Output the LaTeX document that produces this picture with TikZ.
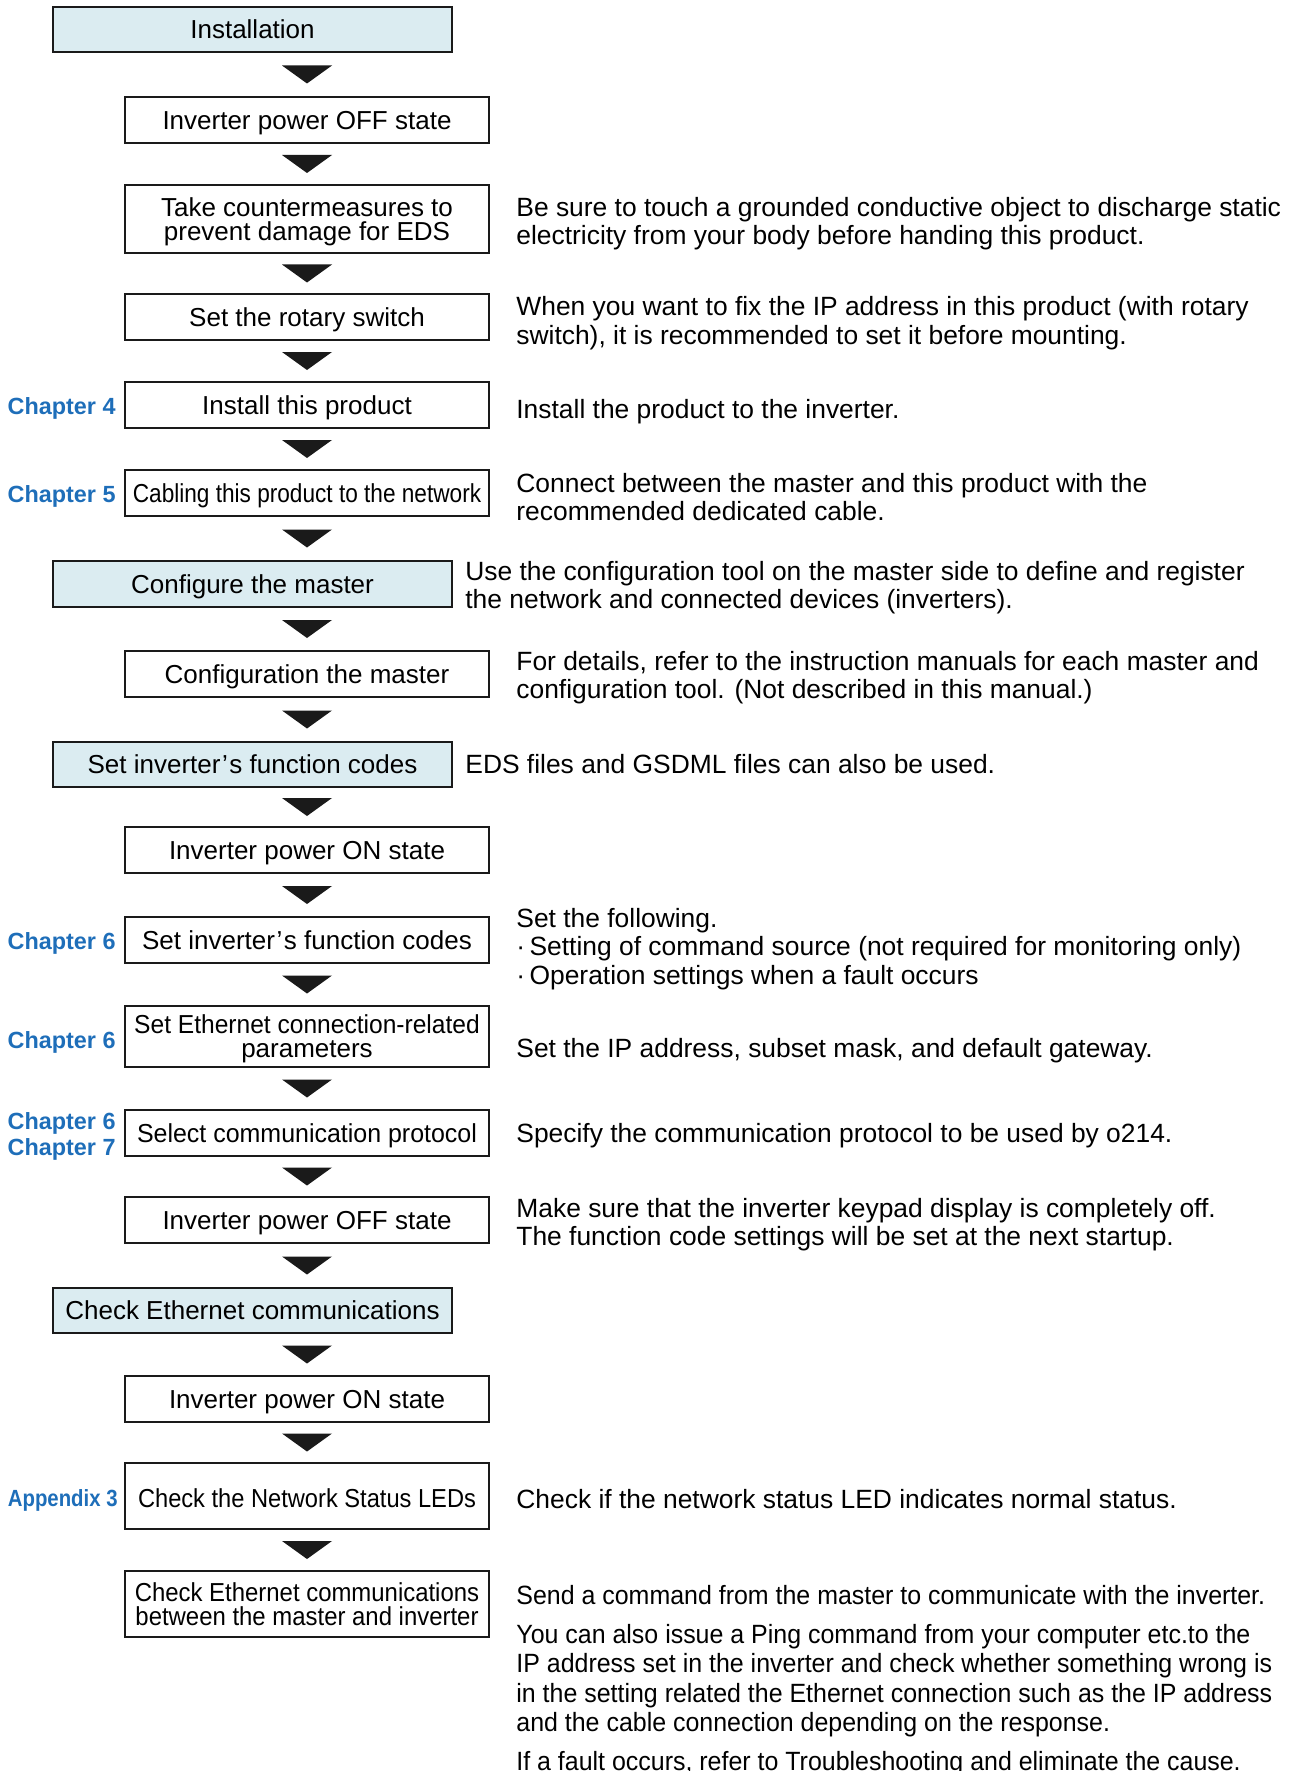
\documentclass[tikz,border=0pt]{standalone}
\usepackage{fontspec}
\setmainfont{Liberation Sans}
\newfontfamily\slimfont[FakeStretch=0.945]{Liberation Sans}
\usepackage{graphicx}
\usetikzlibrary{calc}
\definecolor{edge}{HTML}{1A1A1A}
\definecolor{headFill}{HTML}{DBECF1}
\definecolor{chapBlue}{HTML}{1E6EB9}
\tikzset{
  stepbox/.style={draw=edge, line width=1pt, fill=white, minimum width=182pt, minimum height=23pt, inner sep=0pt,
    text depth=0pt, align=center, font=\fontsize{13}{12}\selectfont},
  headbox/.style={stepbox, fill=headFill, minimum width=199.5pt},
  chap/.style={anchor=east, align=right, inner sep=0pt, text=chapBlue, font=\bfseries\fontsize{11.7}{13}\selectfont},
  note/.style={anchor=west, align=left, inner sep=0pt, font=\fontsize{13.2}{14.25}\selectfont},
}

\begin{document}
\begin{tikzpicture}[x=0.5pt, y=-0.5pt]
  \useasboundingbox (0,0) rectangle (1294,1771);
  \coordinate (axis) at (307,0);
  % ---- flow steps: head boxes (blue) at x 252.5, plain steps at x 307
  \node[headbox, minimum height=22.5pt] (inst) at (252.5,29.5) {Installation};
  \node[stepbox] (offA) at (307,120) {Inverter power OFF state};
  \node[stepbox, minimum height=34pt] (esd) at (307,219) {Take countermeasures to\\prevent damage for EDS};
  \node[stepbox] (rot) at (307,317) {Set the rotary switch};
  \node[stepbox] (mount) at (307,405) {Install this product};
  \node[stepbox] (cable) at (307,493) {\scalebox{0.87}[1]{Cabling this product to the network}};
  \node[headbox] (cfgm) at (252.5,584) {Configure the master};
  \node[stepbox] (cfgd) at (307,674) {Configuration the master};
  \node[headbox, minimum height=22.5pt] (fcode) at (252.5,764.5) {Set inverter\kern0.8pt’\kern0.8pt s function codes};
  \node[stepbox] (onA) at (307,850) {Inverter power ON state};
  \node[stepbox] (fset) at (307,940) {Set inverter\kern0.8pt’\kern0.8pt s function codes};
  \node[stepbox, minimum height=30.5pt] (ether) at (307,1036.5)
    {\scalebox{0.945}[1]{Set Ethernet connection-related}\\parameters};
  \node[stepbox] (proto) at (307,1133) {\scalebox{0.96}[1]{Select communication protocol}};
  \node[stepbox] (offB) at (307,1220) {Inverter power OFF state};
  \node[headbox, minimum height=22.5pt] (chk) at (252.5,1310.5) {Check Ethernet communications};
  \node[stepbox] (onB) at (307,1399) {Inverter power ON state};
  \node[stepbox, minimum height=33pt, text height=11pt] (led) at (307,1496) {\scalebox{0.91}[1]{Check the Network Status LEDs}};
  \node[stepbox, minimum height=33pt] (comm) at (307,1604)
    {\scalebox{0.92}[1]{Check Ethernet communications}\\\scalebox{0.92}[1]{between the master and inverter}};
  % ---- down triangles between the steps, all on the plain step axis
  \foreach \a/\b in {inst/offA, offA/esd, esd/rot, rot/mount, mount/cable, cable/cfgm, cfgm/cfgd, cfgd/fcode,
    fcode/onA, onA/fset, fset/ether, ether/proto, proto/offB, offB/chk, chk/onB, onB/led, led/comm} {
    \coordinate (m) at ($(\a.south)!0.5!(\b.north)$);
    \fill[edge] (axis |- m) +(-25,-9) -- +(25,-9) -- +(0,9) -- cycle;
  }
  % ---- chapter references on the left
  \node[chap] (chMount) at (116,408.5) {Chapter 4};
  \node[chap] (chCable) at (116,496.5) {Chapter 5};
  \node[chap] (chFset) at (116,943.5) {Chapter 6};
  \node[chap] (chEther) at (116,1042) {Chapter 6};
  \node[chap] (chProto) at (116,1136.5) {Chapter 6\\Chapter 7};
  \node[chap] (chLed) at (118,1500) {\scalebox{0.87}[1]{Appendix 3}};
  % ---- notes on the right
  \node[note] (nEsd) at (516,223.5) {Be sure to touch a grounded conductive object to discharge static\\
    electricity from your body before handing this product.};
  \node[note] (nRot) at (516,323) {When you want to fix the IP address in this product (with rotary\\
    switch), it is recommended to set it before mounting.};
  \node[note] (nMount) at (516,411.5) {Install the product to the inverter.};
  \node[note] (nCable) at (516,497) {Connect between the master and this product with the\\recommended dedicated cable.};
  \node[note] (nCfgm) at (465,587.5) {Use the configuration tool on the master side to define and register\\
    the network and connected devices (inverters).};
  \node[note] (nCfgd) at (516,677.5) {For details, refer to the instruction manuals for each master and\\
    configuration tool. (Not described in this manual.)};
  \node[note] (nFcode) at (465,764) {EDS files and GSDML files can also be used.};
  \node[note] (nFset) at (516,949) {Set the following.\\
    ·\,Setting of command source (not required for monitoring only)\\
    ·\,Operation settings when a fault occurs};
  \node[note] (nEther) at (516,1050.5) {Set the IP address, subset mask, and default gateway.};
  \node[note] (nProto) at (516,1135.5) {Specify the communication protocol to be used by o214.};
  \node[note] (nOffB) at (516,1224.5) {Make sure that the inverter keypad display is completely off.\\
    The function code settings will be set at the next startup.};
  \node[note] (nLed) at (516,1499) {Check if the network status LED indicates normal status.};
  \node[note, font=\slimfont\fontsize{13.2}{14.7}\selectfont] (nComm) at (516,1681)
    {Send a command from the master to communicate with the inverter.\\[4.5pt]
    You can also issue a Ping command from your computer etc.to the\\
    IP address set in the inverter and check whether something wrong is\\
    in the setting related the Ethernet connection such as the IP address\\
    and the cable connection depending on the response.\\[5pt]
    If a fault occurs, refer to Troubleshooting and eliminate the cause.};
\end{tikzpicture}
\end{document}
